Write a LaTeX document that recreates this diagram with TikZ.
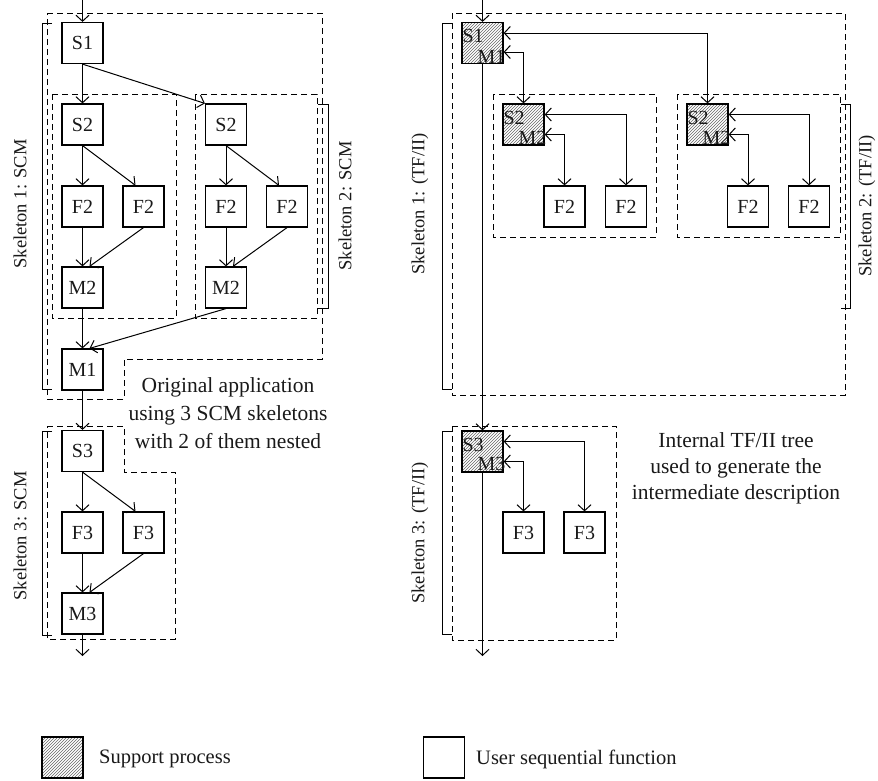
\documentclass[tikz,border=0pt]{standalone}
\usepackage{fontspec}
\setmainfont{Liberation Serif}
\usetikzlibrary{arrows.meta,patterns,calc}
\begin{document}
\begin{tikzpicture}[x=1pt,y=-1pt,
  box/.style={draw, line width=1.2pt, minimum width=41pt, minimum height=41pt, inner sep=0pt, font=\fontsize{20}{23}\selectfont, text=black!90},
  hbox/.style={box, pattern=north east lines, pattern color=black!60},
  hl/.style={inner sep=0pt, font=\fontsize{20}{23}\selectfont, text=black!90},
  arr/.style={line width=1pt, -{Straight Barb[length=6pt,width=13pt]}},
  dbl/.style={line width=1pt, {Straight Barb[length=6pt,width=13pt]}-{Straight Barb[length=6pt,width=13pt]}},
  dsh/.style={line width=1pt, dash pattern=on 6pt off 4pt},
  brk/.style={line width=1pt},
  skl/.style={rotate=90, inner sep=0pt, font=\fontsize{18.5}{21}\selectfont, text=black!90},
  txt/.style={align=center, inner sep=0pt, font=\fontsize{21.5}{28}\selectfont, text=black!90},
  lg/.style={inner sep=0pt, anchor=west, font=\fontsize{20.5}{23}\selectfont, text=black!90},
]
\useasboundingbox (0,0) rectangle (878,780);

% ---------------- left diagram ----------------
\draw[dsh] (47,13) -- (322,13) -- (322,359) -- (124,359) -- (124,399) -- (47,399) -- cycle;
\draw[dsh] (52,94) rectangle (176,318);
\draw[dsh] (195,94) rectangle (317,318);
\draw[dsh] (47,426) -- (124,426) -- (124,472) -- (175,472) -- (175,639) -- (47,639) -- cycle;

\draw[brk] (52,23) -- (42,23) -- (42,389) -- (52,389);
\draw[brk] (318,104) -- (328,104) -- (328,308) -- (318,308);
\draw[brk] (52,431) -- (42,431) -- (42,635) -- (52,635);

\node[skl] (k1) at (20,204) {Skeleton 1: SCM};
\node[skl] (k2) at (345,206) {Skeleton 2: SCM};
\node[skl] (k3) at (20,536) {Skeleton 3: SCM};

\node[box] (S1) at (82.5,43) {S1};
\node[box] (S2L) at (82.5,124.5) {S2};
\node[box] (F2La) at (82.5,206.5) {F2};
\node[box] (F2Lb) at (143.5,206.5) {F2};
\node[box] (M2L) at (82.5,287.5) {M2};
\node[box] (S2R) at (226,124.5) {S2};
\node[box] (F2Ra) at (226,206.5) {F2};
\node[box] (F2Rb) at (287,206.5) {F2};
\node[box] (M2R) at (226,287.5) {M2};
\node[box] (M1) at (82.5,369.5) {M1};
\node[box] (S3) at (82.5,451) {S3};
\node[box] (F3a) at (82.5,532.5) {F3};
\node[box] (F3b) at (143.5,532.5) {F3};
\node[box] (M3) at (82.5,613.5) {M3};

\coordinate (inL) at (82.5,0);
\coordinate (outL) at (82.5,656);

\draw[arr] (inL) -- (S1.north);
\draw[arr] (S1.south) -- (S2L.north);
\draw[arr] (S1.south) -- (S2R.north west);
\draw[arr] (S2L.south) -- (F2La.north);
\draw[arr] (S2L.south) -- ([xshift=-8pt]F2Lb.north);
\draw[arr] (F2La.south) -- (M2L.north);
\draw[arr] (F2Lb.south) -- ([xshift=7pt]M2L.north);
\draw[arr] (S2R.south) -- (F2Ra.north);
\draw[arr] (S2R.south) -- ([xshift=-8pt]F2Rb.north);
\draw[arr] (F2Ra.south) -- (M2R.north);
\draw[arr] (F2Rb.south) -- ([xshift=7pt]M2R.north);
\draw[arr] (M2L.south) -- (M1.north);
\draw[arr] (M2R.south) -- ([xshift=7pt]M1.north);
\draw[arr] (M1.south) -- (S3.north);
\draw[arr] (S3.south) -- (F3a.north);
\draw[arr] (S3.south) -- ([xshift=-8pt]F3b.north);
\draw[arr] (F3a.south) -- (M3.north);
\draw[arr] (F3b.south) -- ([xshift=7pt]M3.north);
\draw[arr] (M3.south) -- (outL);

\node[txt] (t1) at (228,413) {Original application\\using 3 SCM skeletons\\with 2 of them nested};

% ---------------- right diagram ----------------
\draw[dsh] (452,13) rectangle (845,395);
\draw[dsh] (493,94) rectangle (656,237);
\draw[dsh] (677,94) rectangle (840,237);
\draw[dsh] (452,426) rectangle (616,640);

\draw[brk] (452,23) -- (442,23) -- (442,389) -- (452,389);
\draw[brk] (841,104) -- (850,104) -- (850,308) -- (841,308);
\draw[brk] (452,431) -- (442,431) -- (442,634) -- (452,634);

\node[skl] (r1) at (420,204) {Skeleton 1: (TF/II)};
\node[skl] (r2) at (867,206) {Skeleton 2: (TF/II)};
\node[skl] (r3) at (420,533) {Skeleton 3: (TF/II)};

\node[hbox] (R1) at (482.5,43) {};
\node[hl, anchor=base west] (R1s) at ([xshift=1pt,yshift=-21pt]R1.north west) {S1};
\node[hl, anchor=base east] (R1m) at ([xshift=2pt,yshift=1pt]R1.south east) {M1};

\node[hbox] (RA) at (523.5,124.5) {};
\node[hl, anchor=base west] (RAs) at ([xshift=1pt,yshift=-21pt]RA.north west) {S2};
\node[hl, anchor=base east] (RAm) at ([xshift=2pt,yshift=1pt]RA.south east) {M2};
\node[box] (FA1) at (564.5,206.5) {F2};
\node[box] (FA2) at (626,206.5) {F2};

\node[hbox] (RB) at (707.5,124.5) {};
\node[hl, anchor=base west] (RBs) at ([xshift=1pt,yshift=-21pt]RB.north west) {S2};
\node[hl, anchor=base east] (RBm) at ([xshift=2pt,yshift=1pt]RB.south east) {M2};
\node[box] (FB1) at (748,206.5) {F2};
\node[box] (FB2) at (809,206.5) {F2};

\node[hbox] (R3) at (482.5,451.5) {};
\node[hl, anchor=base west] (R3s) at ([xshift=1pt,yshift=-21pt]R3.north west) {S3};
\node[hl, anchor=base east] (R3m) at ([xshift=2pt,yshift=2pt]R3.south east) {M3};
\node[box] (F31) at (523.5,532.5) {F3};
\node[box] (F32) at (584.5,532.5) {F3};

\coordinate (inR) at (482.5,0);
\coordinate (outR) at (482.5,656);

\draw[arr] (inR) -- (R1.north);
\draw[dbl] ([yshift=10pt]R1.east) -| (RB.north);
\draw[dbl] ([yshift=-9pt]R1.east) -| (RA.north);
\draw[dbl] ([yshift=10pt]RA.east) -| (FA2.north);
\draw[dbl] ([yshift=-10pt]RA.east) -| (FA1.north);
\draw[dbl] ([yshift=10pt]RB.east) -| (FB2.north);
\draw[dbl] ([yshift=-10pt]RB.east) -| (FB1.north);
\draw[arr] (R1.south) -- (R3.north);
\draw[dbl] ([yshift=10pt]R3.east) -| (F32.north);
\draw[dbl] ([yshift=-10pt]R3.east) -| (F31.north);
\draw[arr] (R3.south) -- (outR);

\node[txt, font=\fontsize{21.5}{26}\selectfont] (t2) at (736,468) {Internal TF/II tree\\used to generate the\\intermediate description};

% ---------------- legend ----------------
\node[hbox] (L1) at (62.5,757.5) {};
\node[lg] (L1t) at (99,759) {Support process};
\node[box] (L2) at (444,757.5) {};
\node[lg] (L2t) at (476,759) {User sequential function};
\end{tikzpicture}
\end{document}
